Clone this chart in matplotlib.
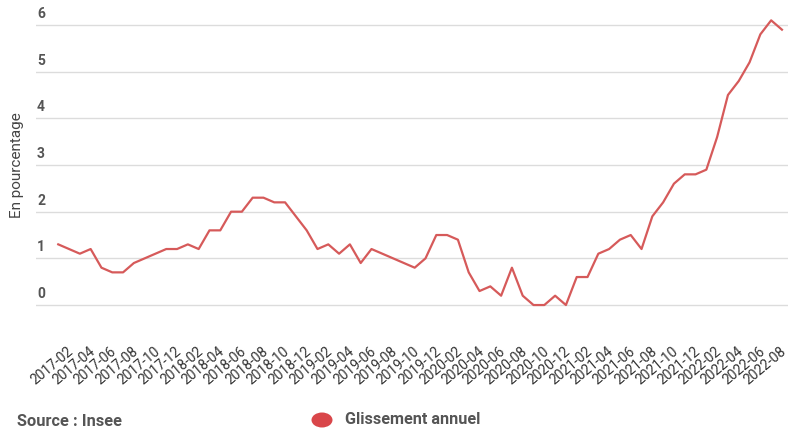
import matplotlib
matplotlib.use("Agg")
import matplotlib.pyplot as plt
from matplotlib.patches import Ellipse
import matplotlib.transforms as mtransforms

plt.rcParams['font.family'] = ['Roboto', 'DejaVu Sans']

months = [f"{y}-{m:02d}" for y in range(2017, 2023) for m in range(1, 13)][:68]
values = [1.3, 1.2, 1.1, 1.2, 0.8, 0.7, 0.7, 0.9, 1.0, 1.1, 1.2, 1.2,
          1.3, 1.2, 1.6, 1.6, 2.0, 2.0, 2.3, 2.3, 2.2, 2.2, 1.9, 1.6,
          1.2, 1.3, 1.1, 1.3, 0.9, 1.2, 1.1, 1.0, 0.9, 0.8, 1.0, 1.5,
          1.5, 1.4, 0.7, 0.3, 0.4, 0.2, 0.8, 0.2, 0.0, 0.0, 0.2, 0.0,
          0.6, 0.6, 1.1, 1.2, 1.4, 1.5, 1.2, 1.9, 2.2, 2.6, 2.8, 2.8,
          2.9, 3.6, 4.5, 4.8, 5.2, 5.8, 6.1, 5.9]
yticks = [0, 1, 2, 3, 4, 5, 6]
series_name = "Glissement annuel"
source = "Source : Insee"
ylabel = "En pourcentage"

W, H = 788, 430
fig = plt.figure(figsize=(W / 100, H / 100), dpi=100)
fig.patch.set_facecolor('white')

ax_left, ax_right = 36, 788
ax_top, ax_bottom = 11, 309.7
ax = fig.add_axes([ax_left / W, 1 - ax_bottom / H, (ax_right - ax_left) / W, (ax_bottom - ax_top) / H])

x = list(range(len(values)))
line_color = '#d65a5a'
ax.plot(x, values, color=line_color, linewidth=1.6, clip_on=False, zorder=3)

ax.set_xlim(-2.06, 67.56)
ax.set_ylim(-0.1, 6.3)

ax.set_yticks(yticks)
ax.yaxis.grid(True, color='#dcdcdc', linewidth=1.0)
ax.tick_params(axis='y', left=False, labelleft=False)
for s in ax.spines.values():
    s.set_visible(False)

trans = mtransforms.blended_transform_factory(ax.transAxes, ax.transData)
offset = mtransforms.offset_copy(trans, fig=fig, x=1, y=4, units='dots')
for t in yticks:
    ax.text(0.0, t, str(t), transform=offset, ha='left', va='bottom',
            fontsize=10, fontweight='bold', color='#555555')

tick_idx = list(range(1, len(months), 2))
ax.set_xticks(tick_idx)
ax.set_xticklabels([months[i] for i in tick_idx], rotation=40, ha='right',
                   rotation_mode='anchor', fontsize=10, color='#333333')
ax.tick_params(axis='x', length=0, pad=25)
# nudge labels slightly left so the last one stays inside the canvas
for lbl in ax.get_xticklabels():
    lbl.set_transform(lbl.get_transform() + mtransforms.Affine2D().translate(-2, 0))

fig.text(17 / W, 1 - 165 / H, ylabel, rotation=90, ha='center', va='center',
         fontsize=11, color='#444444')

fig.text(17 / W, 1 - 421 / H, source, ha='left', va='center',
         fontsize=11.8, fontweight='bold', color='#555555')

ell = Ellipse((322 / W, 1 - 420 / H), width=21 / W, height=15 / H,
              transform=fig.transFigure, facecolor='#d9464a', edgecolor='none')
fig.patches.append(ell)
fig.text(345 / W, 1 - 420 / H, series_name, ha='left', va='center',
         fontsize=11.6, fontweight='bold', color='#555555')

fig.savefig('out.png', dpi=100, facecolor='white')
